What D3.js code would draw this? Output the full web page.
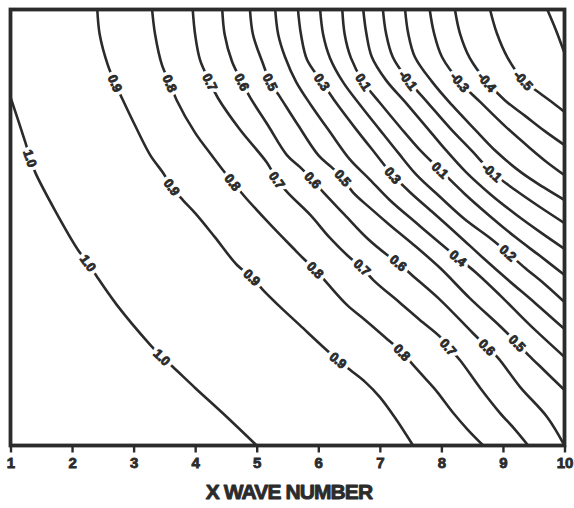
<!DOCTYPE html>
<html>
<head>
<meta charset="utf-8">
<script src="https://cdnjs.cloudflare.com/ajax/libs/d3/7.8.5/d3.min.js"></script>
<style>
  html, body { margin: 0; padding: 0; background: #fff; }
  svg { display: block; }
</style>
</head>
<body>
<svg id="chart" width="574" height="508"></svg>
<script>
// ---- DATA (x = X wave number, y = position on the unlabeled vertical axis, 0..10) ----
const xTicks = [1, 2, 3, 4, 5, 6, 7, 8, 9, 10];
const xTitle = "X WAVE NUMBER";

const contourLevels = ["1.0", "0.9", "0.8", "0.7", "0.6", "0.5", "0.4", "0.3", "0.2", "0.1", "0.0",
                       "-0.1", "-0.2", "-0.3", "-0.4", "-0.5", "-0.6"];

const contourLines = [
  // 1.0
  [[1.00,7.99],[1.24,6.96],[1.32,6.59],[1.40,6.27],[1.72,5.40],[2.10,4.48],[2.26,4.19],[2.41,3.86],[2.73,3.22],[3.27,2.31],[3.46,2.03],[3.64,1.80],[4.00,1.32],[4.48,0.70],[5.00,0]],
  // 0.9
  [[2.41,10],[2.45,9.42],[2.58,8.73],[2.70,8.31],[2.81,7.97],[3.02,7.35],[3.27,6.66],[3.48,6.25],[3.62,5.93],[3.80,5.63],[4.00,5.33],[4.32,4.78],[4.68,4.14],[4.92,3.86],[5.10,3.57],[5.35,3.22],[5.70,2.76],[6.08,2.26],[6.32,1.96],[6.52,1.73],[6.76,1.46],[7.00,1.11],[7.25,0.63],[7.54,0]],
  // 0.8
  [[3.30,10],[3.35,9.42],[3.46,8.73],[3.59,8.31],[3.70,7.92],[4.00,7.17],[4.24,6.71],[4.45,6.32],[4.61,6.04],[4.81,5.70],[5.18,5.13],[5.59,4.53],[5.75,4.30],[5.95,4.03],[6.14,3.73],[6.47,3.22],[6.76,2.88],[7.08,2.49],[7.36,2.14],[7.54,1.85],[7.73,1.55],[7.93,1.23],[8.19,0.75],[8.43,0.36],[8.68,0]],
  // 0.7
  [[3.96,10],[4.00,9.42],[4.08,8.84],[4.24,8.34],[4.37,7.97],[4.73,7.24],[5.17,6.48],[5.33,6.09],[5.51,5.79],[5.87,5.29],[6.19,4.76],[6.52,4.30],[6.71,4.09],[6.89,3.80],[7.33,3.27],[7.65,2.88],[7.98,2.49],[8.11,2.26],[8.30,1.96],[8.63,1.32],[8.95,0.75],[9.20,0.36],[9.41,0]],
  // 0.6
  [[4.44,10],[4.48,9.42],[4.60,8.80],[4.76,8.34],[4.89,7.99],[5.18,7.35],[5.49,6.66],[5.70,6.39],[5.91,6.09],[6.08,5.81],[6.43,5.29],[6.79,4.76],[7.12,4.37],[7.30,4.19],[7.52,3.91],[7.98,3.34],[8.51,2.58],[8.74,2.26],[8.92,2.01],[9.28,1.34],[9.72,0.65],[10,0]],
  // 0.5
  [[4.89,10],[4.94,9.42],[5.09,8.80],[5.22,8.34],[5.38,7.99],[5.67,7.35],[6.00,6.66],[6.21,6.39],[6.40,6.14],[6.56,5.81],[6.84,5.45],[7.16,5.06],[7.52,4.64],[7.98,4.07],[8.46,3.38],[8.95,2.74],[9.23,2.35],[9.41,2.08],[9.68,1.71],[10,1.27]],
  // 0.4
  [[5.30,10],[5.35,9.42],[5.46,8.91],[5.64,8.34],[5.88,7.81],[6.19,7.19],[6.52,6.55],[6.81,6.14],[7.16,5.63],[7.57,5.13],[7.98,4.64],[8.27,4.30],[8.55,3.98],[8.95,3.45],[9.44,2.76],[10,2.03]],
  // 0.3
  [[5.67,10],[5.72,9.42],[5.82,8.84],[6.06,8.34],[6.29,7.86],[6.60,7.28],[6.92,6.71],[7.21,6.20],[7.49,5.81],[7.85,5.36],[8.27,4.83],[8.68,4.30],[9.08,3.80],[9.52,3.27],[10,2.67]],
  // 0.2
  [[6.03,10],[6.08,9.42],[6.19,8.89],[6.40,8.34],[6.68,7.81],[7.00,7.24],[7.30,6.71],[7.60,6.20],[7.98,5.70],[8.38,5.19],[8.79,4.76],[9.08,4.42],[9.36,4.07],[9.68,3.70],[10,3.29]],
  // 0.1
  [[6.39,10],[6.43,9.42],[6.53,8.89],[6.73,8.34],[7.00,7.86],[7.33,7.30],[7.65,6.78],[7.98,6.32],[8.38,5.77],[8.79,5.26],[9.20,4.78],[9.60,4.35],[10,3.91]],
  // 0.0
  [[6.73,10],[6.78,9.46],[6.87,8.91],[7.10,8.38],[7.41,7.88],[7.73,7.35],[8.07,6.78],[8.40,6.27],[8.79,5.77],[9.20,5.31],[9.60,4.90],[10,4.51]],
  // -0.1
  [[7.05,10],[7.10,9.46],[7.21,8.91],[7.46,8.38],[7.78,7.86],[8.14,7.28],[8.50,6.75],[8.82,6.27],[9.20,5.86],[9.60,5.47],[10,5.10]],
  // -0.2
  [[7.41,10],[7.46,9.46],[7.57,8.91],[7.85,8.34],[8.17,7.81],[8.55,7.24],[8.90,6.73],[9.29,6.27],[9.65,5.93],[10,5.63]],
  // -0.3
  [[7.81,10],[7.88,9.46],[8.01,8.91],[8.30,8.34],[8.63,7.88],[9.03,7.33],[9.44,6.82],[9.73,6.48],[10,6.20]],
  // -0.4
  [[8.22,10],[8.30,9.46],[8.46,8.89],[8.74,8.34],[9.03,7.92],[9.36,7.56],[9.68,7.21],[10,6.89]],
  // -0.5
  [[8.79,10],[8.90,9.46],[9.07,8.91],[9.33,8.38],[9.60,8.08],[9.81,7.86],[10,7.65]],
  // -0.6
  [[9.72,10],[9.86,9.53],[10,9.00]]
];

// index of the points (in each line above) where a contour label sits
const labelPoints = [
  [2, 6, 10],      // 1.0
  [3, 8, 13, 18],  // 0.9
  [3, 8, 13, 18],  // 0.8
  [3, 7, 12, 17],  // 0.7
  [3, 8, 13, 17],  // 0.6
  [3, 8, 16],      // 0.5
  [11],            // 0.4
  [3, 7],          // 0.3
  [11],            // 0.2
  [3, 7],          // 0.1
  [],              // 0.0
  [3, 7],          // -0.1
  [],              // -0.2
  [3],             // -0.3
  [3],             // -0.4
  [3],             // -0.5
  []               // -0.6
];

(function () {
  const svg = d3.select("#chart");
  const pL = 10.5, pR = 564.5, pT = 9.5, pB = 445.5;
  const ink = "#2b2b2b";
  const font = "Liberation Sans, Arial, sans-serif";

  const x = d3.scaleLinear().domain([1, 10]).range([pL, pR]);
  const y = d3.scaleLinear().domain([0, 10]).range([pB, pT]);

  svg.append("defs").append("clipPath").attr("id", "plotClip")
    .append("rect").attr("x", pL).attr("y", pT)
    .attr("width", pR - pL).attr("height", pB - pT);

  const line = d3.line()
    .x(d => x(d[0])).y(d => y(d[1]))
    .curve(d3.curveCatmullRom.alpha(0.5));

  const g = svg.append("g").attr("clip-path", "url(#plotClip)");

  g.selectAll("path.contour")
    .data(contourLines)
    .join("path")
    .attr("class", "contour")
    .attr("d", line)
    .attr("fill", "none")
    .attr("stroke", ink)
    .attr("stroke-width", 2.6)
    .attr("stroke-linejoin", "round")
    .attr("stroke-linecap", "round");

  const labels = [];
  contourLines.forEach((pts, i) => {
    labelPoints[i].forEach(k => {
      const a = pts[Math.max(0, k - 1)], b = pts[Math.min(pts.length - 1, k + 1)];
      const ang = Math.atan2(y(b[1]) - y(a[1]), x(b[0]) - x(a[0])) * 180 / Math.PI;
      labels.push({ text: contourLevels[i], px: x(pts[k][0]), py: y(pts[k][1]), ang });
    });
  });

  const lg = svg.append("g");
  // white halo that opens a gap in the line
  lg.selectAll("text.halo")
    .data(labels)
    .join("text")
    .attr("class", "halo")
    .attr("transform", d => `translate(${d.px},${d.py}) rotate(${d.ang})`)
    .attr("text-anchor", "middle")
    .attr("dy", "0.36em")
    .attr("font-family", font)
    .attr("font-weight", "bold")
    .attr("font-size", 13)
    .attr("letter-spacing", -0.4)
    .attr("fill", "#fff")
    .attr("stroke", "#fff")
    .attr("stroke-width", 8)
    .attr("stroke-linejoin", "round")
    .text(d => d.text);
  // heavy label text
  lg.selectAll("text.lab")
    .data(labels)
    .join("text")
    .attr("class", "lab")
    .attr("transform", d => `translate(${d.px},${d.py}) rotate(${d.ang})`)
    .attr("text-anchor", "middle")
    .attr("dy", "0.36em")
    .attr("font-family", font)
    .attr("font-weight", "bold")
    .attr("font-size", 13)
    .attr("letter-spacing", -0.4)
    .attr("fill", ink)
    .attr("stroke", ink)
    .attr("stroke-width", 0.9)
    .attr("stroke-linejoin", "round")
    .text(d => d.text);

  svg.append("rect")
    .attr("x", pL).attr("y", pT)
    .attr("width", pR - pL).attr("height", pB - pT)
    .attr("fill", "none").attr("stroke", ink).attr("stroke-width", 3.8);

  const ax = svg.append("g")
    .attr("transform", `translate(0,${pB})`)
    .call(d3.axisBottom(x).tickValues(xTicks).tickFormat(d3.format("d")).tickSize(7).tickPadding(5));
  ax.select(".domain").remove();
  ax.selectAll(".tick line").attr("stroke", ink).attr("stroke-width", 2.4);
  ax.selectAll(".tick text")
    .attr("fill", ink)
    .attr("stroke", ink)
    .attr("stroke-width", 0.8)
    .attr("font-family", font)
    .attr("font-weight", "bold")
    .attr("font-size", 15);

  svg.append("text")
    .attr("x", 289).attr("y", 499)
    .attr("text-anchor", "middle")
    .attr("font-family", font)
    .attr("font-weight", "bold")
    .attr("font-size", 21)
    .attr("letter-spacing", -0.9)
    .attr("fill", ink)
    .attr("stroke", ink)
    .attr("stroke-width", 0.9)
    .attr("stroke-linejoin", "round")
    .text(xTitle);
})();
</script>
</body>
</html>
